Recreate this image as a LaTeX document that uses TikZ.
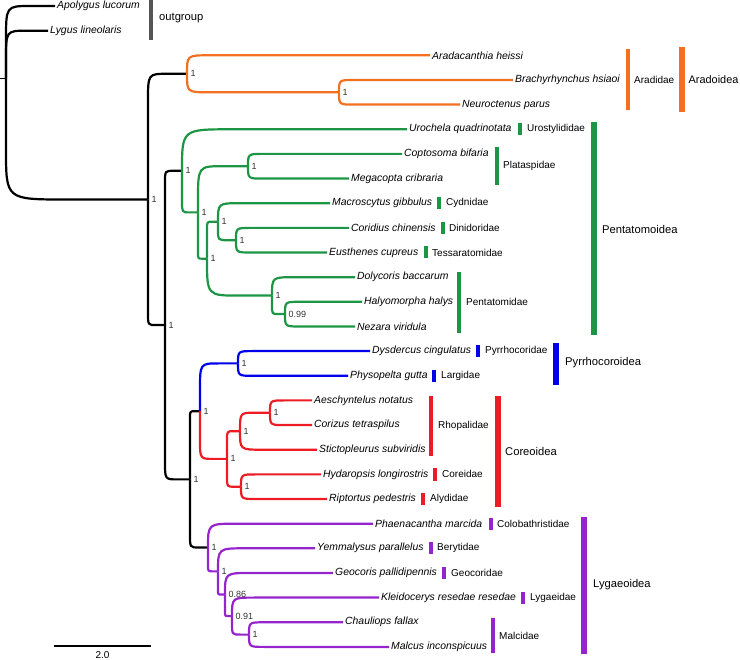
\documentclass[tikz,border=0pt]{standalone}
\usepackage{fontspec}
\setmainfont{Liberation Sans}
\usepackage{tikz}
\usetikzlibrary{positioning, calc}
\definecolor{aracol}{RGB}{243,112,33}
\definecolor{pencol}{RGB}{28,150,68}
\definecolor{pyrcol}{RGB}{0,0,235}
\definecolor{corcol}{RGB}{237,28,36}
\definecolor{lygcol}{RGB}{150,36,204}
\definecolor{outcol}{RGB}{85,85,85}
\tikzset{
  branch/.style={line width=2.2pt},
  tipname/.style={anchor=west, inner sep=2pt, font=\fontsize{10.4}{12}\selectfont\itshape},
  famname/.style={anchor=west, inner sep=0pt, font=\fontsize{10}{12}\selectfont},
  supname/.style={anchor=west, inner sep=0pt, font=\fontsize{11.2}{13}\selectfont},
  support/.style={inner sep=0pt, font=\fontsize{9}{10}\selectfont, text=black!80},
  fambar/.style={line width=4pt},
  supbar/.style={line width=6pt}
}
% rounded elbow from a parent node to a child
\newcommand{\branch}[3][black]{%
  \draw[branch, #1] let \p1 = (#2), \p2 = (#3),
    \n1 = {min(abs((\y2)-(\y1)), 50pt, 0.7*((\x2)-(\x1)))},
    \n2 = {min(1.2*\n1, 0.5*((\x2)-(\x1)))},
    \n3 = {((\y1) > (\y2)) ? 1 : -1} in
    (\p1) -- (\x1, {(\y2) + \n3*\n1}) .. controls (\x1, \y2) .. ({\x1 + \n2}, \y2) -- (\p2);}

\begin{document}
\begin{tikzpicture}[x=1pt, y=-1pt]
  \useasboundingbox (0,0) rectangle (740,660);

  % inner nodes
  \coordinate (stub) at (0,78.7);
  \coordinate (root) at (6,78.7);
  \coordinate (ing)  at (148,199.5);
  \coordinate (O1)   at (187,73.8);
  \coordinate (O2)   at (339,92.3);
  \coordinate (n326) at (165,325.1);
  \coordinate (G1)   at (182,170.8);
  \coordinate (G2)   at (198,212.4);
  \coordinate (P)    at (248,166.2);
  \coordinate (G3)   at (207,258.7);
  \coordinate (G4)   at (218,221.7);
  \coordinate (G5)   at (236,240.2);
  \coordinate (PT)   at (272,295.6);
  \coordinate (PT2)  at (285,314.1);
  \coordinate (n480) at (190,479.4);
  \coordinate (BR)   at (200,411.2);
  \coordinate (B1)   at (238,363.4);
  \coordinate (R1)   at (227,458.9);
  \coordinate (R2)   at (240,431.2);
  \coordinate (R3)   at (270,412.7);
  \coordinate (R5)   at (241,486.7);
  \coordinate (U1)   at (208,547.5);
  \coordinate (U2)   at (218,571.4);
  \coordinate (U3)   at (225,594.5);
  \coordinate (U4)   at (232,616.1);
  \coordinate (U5)   at (249,634.6);

  % tips
  \node[tipname] (aluc) at (55,6.0)   {Apolygus lucorum};
  \node[tipname] (llin) at (48,30.7)  {Lygus lineolaris};
  \node[tipname] (ahei) at (430,55.3) {Aradacanthia heissi};
  \node[tipname] (bhsi) at (513,80.0) {Brachyrhynchus hsiaoi};
  \node[tipname] (npar) at (460,104.6) {Neuroctenus parus};
  \node[tipname] (uqua) at (407,129.3) {Urochela quadrinotata};
  \node[tipname] (cbif) at (402,153.9) {Coptosoma bifaria};
  \node[tipname] (mcri) at (349,178.6) {Megacopta cribraria};
  \node[tipname] (mgib) at (330,203.2) {Macroscytus gibbulus};
  \node[tipname] (cchi) at (349,227.9) {Coridius chinensis};
  \node[tipname] (ecup) at (327,252.5) {Eusthenes cupreus};
  \node[tipname] (dbac) at (355,277.2) {Dolycoris baccarum};
  \node[tipname] (hhal) at (362,301.8) {Halyomorpha halys};
  \node[tipname] (nvir) at (355,326.5) {Nezara viridula};
  \node[tipname] (dcin) at (370,351.1) {Dysdercus cingulatus};
  \node[tipname] (pgut) at (348,375.8) {Physopelta gutta};
  \node[tipname] (anot) at (312,400.4) {Aeschyntelus notatus};
  \node[tipname] (ctet) at (312,425.1) {Corizus tetraspilus};
  \node[tipname] (ssub) at (317,449.7) {Stictopleurus subviridis};
  \node[tipname] (hlon) at (321,474.4) {Hydaropsis longirostris};
  \node[tipname] (rped) at (327,499.0) {Riptortus pedestris};
  \node[tipname] (pmar) at (373,523.7) {Phaenacantha marcida};
  \node[tipname] (ypar) at (315,548.3) {Yemmalysus parallelus};
  \node[tipname] (gpal) at (333,573.0) {Geocoris pallidipennis};
  \node[tipname] (kres) at (379,597.6) {Kleidocerys resedae resedae};
  \node[tipname] (cfal) at (343,622.3) {Chauliops fallax};
  \node[tipname] (minc) at (389,646.9) {Malcus inconspicuus};

  % backbone and outgroup
  \draw[line width=0.8pt] (stub) -- (root);
  \branch{root}{aluc.west}
  \branch{root}{llin.west}
  \branch{root}{ing}
  \branch{ing}{O1}
  \branch{ing}{n326}
  \branch{n326}{G1}
  \branch{n326}{n480}
  \branch{n480}{BR}
  \branch{n480}{U1}
  % Aradoidea
  \branch[aracol]{O1}{ahei.west}
  \branch[aracol]{O1}{O2}
  \branch[aracol]{O2}{bhsi.west}
  \branch[aracol]{O2}{npar.west}
  % Pentatomoidea
  \branch[pencol]{G1}{uqua.west}
  \branch[pencol]{G1}{G2}
  \branch[pencol]{G2}{P}
  \branch[pencol]{G2}{G3}
  \branch[pencol]{P}{cbif.west}
  \branch[pencol]{P}{mcri.west}
  \branch[pencol]{G3}{G4}
  \branch[pencol]{G3}{PT}
  \branch[pencol]{G4}{mgib.west}
  \branch[pencol]{G4}{G5}
  \branch[pencol]{G5}{cchi.west}
  \branch[pencol]{G5}{ecup.west}
  \branch[pencol]{PT}{dbac.west}
  \branch[pencol]{PT}{PT2}
  \branch[pencol]{PT2}{hhal.west}
  \branch[pencol]{PT2}{nvir.west}
  % Pyrrhocoroidea
  \branch[pyrcol]{BR}{B1}
  \branch[pyrcol]{B1}{dcin.west}
  \branch[pyrcol]{B1}{pgut.west}
  % Coreoidea
  \branch[corcol]{BR}{R1}
  \branch[corcol]{R1}{R2}
  \branch[corcol]{R1}{R5}
  \branch[corcol]{R2}{R3}
  \branch[corcol]{R2}{ssub.west}
  \branch[corcol]{R3}{anot.west}
  \branch[corcol]{R3}{ctet.west}
  \branch[corcol]{R5}{hlon.west}
  \branch[corcol]{R5}{rped.west}
  % Lygaeoidea
  \branch[lygcol]{U1}{pmar.west}
  \branch[lygcol]{U1}{U2}
  \branch[lygcol]{U2}{ypar.west}
  \branch[lygcol]{U2}{U3}
  \branch[lygcol]{U3}{gpal.west}
  \branch[lygcol]{U3}{U4}
  \branch[lygcol]{U4}{kres.west}
  \branch[lygcol]{U4}{U5}
  \branch[lygcol]{U5}{cfal.west}
  \branch[lygcol]{U5}{minc.west}

  % posterior support
  \foreach \nd/\val in {ing/1, O1/1, O2/1, n326/1, G1/1, G2/1, P/1, G3/1, G4/1,
      G5/1, PT/1, PT2/0.99, n480/1, BR/1, B1/1, R1/1, R2/1, R3/1, R5/1,
      U1/1, U2/1, U3/0.86, U4/0.91, U5/1}
    \node[support, right=3.5pt of \nd] (s\nd) {\val};

  % families
  \draw[fambar, outcol] (151,0) -- (151,40);
  \node[supname] (outg) at (159,18) {outgroup};
  \draw[fambar, aracol] (628,49) -- (628,110);
  \node[famname] (fAra) at (634,80) {Aradidae};
  \draw[fambar, pencol] (520,123) -- (520,135);
  \node[famname] (fUro) at (527,129.3) {Urostylididae};
  \draw[fambar, pencol] (497,147) -- (497,185);
  \node[famname] (fPla) at (503,166) {Plataspidae};
  \draw[fambar, pencol] (439,197) -- (439,209);
  \node[famname] (fCyd) at (446,203.2) {Cydnidae};
  \draw[fambar, pencol] (443,222) -- (443,234);
  \node[famname] (fDin) at (449,227.9) {Dinidoridae};
  \draw[fambar, pencol] (426,246.5) -- (426,258.5);
  \node[famname] (fTes) at (432,252.5) {Tessaratomidae};
  \draw[fambar, pencol] (459,272) -- (459,333);
  \node[famname] (fPen) at (466,302) {Pentatomidae};
  \draw[fambar, pyrcol] (478,345) -- (478,357);
  \node[famname] (fPyr) at (485,351.1) {Pyrrhocoridae};
  \draw[fambar, pyrcol] (434,370) -- (434,382);
  \node[famname] (fLar) at (441,375.8) {Largidae};
  \draw[fambar, corcol] (431,396) -- (431,456);
  \node[famname] (fRho) at (438,426) {Rhopalidae};
  \draw[fambar, corcol] (435,468) -- (435,481);
  \node[famname] (fCor) at (442,474.4) {Coreidae};
  \draw[fambar, corcol] (423,493) -- (423,505);
  \node[famname] (fAly) at (430,499) {Alydidae};
  \draw[fambar, lygcol] (491,518) -- (491,530);
  \node[famname] (fCol) at (497,523.7) {Colobathristidae};
  \draw[fambar, lygcol] (431,542) -- (431,554);
  \node[famname] (fBer) at (437,548.3) {Berytidae};
  \draw[fambar, lygcol] (444,567) -- (444,579);
  \node[famname] (fGeo) at (451,573) {Geocoridae};
  \draw[fambar, lygcol] (523,592) -- (523,604);
  \node[famname] (fLyg) at (530,597.6) {Lygaeidae};
  \draw[fambar, lygcol] (493,618) -- (493,653);
  \node[famname] (fMal) at (499,636) {Malcidae};

  % superfamilies
  \draw[supbar, aracol] (682,47) -- (682,112);
  \node[supname, font=\fontsize{10.9}{13}\selectfont] (sfAra) at (688.5,80) {Aradoidea};
  \draw[supbar, pencol] (594,122) -- (594,335);
  \node[supname] (sfPen) at (602,229) {Pentatomoidea};
  \draw[supbar, pyrcol] (556,343) -- (556,385);
  \node[supname] (sfPyr) at (565,363) {Pyrrhocoroidea};
  \draw[supbar, corcol] (498,396) -- (498,507);
  \node[supname] (sfCor) at (505,451) {Coreoidea};
  \draw[supbar, lygcol] (584,517) -- (584,654);
  \node[supname] (sfLyg) at (593,585) {Lygaeoidea};

  % scale bar
  \coordinate (sb0) at (54,646);
  \coordinate (sb1) at (151,646);
  \draw[line width=1.1pt] (sb0) -- (sb1);
  \node[font=\fontsize{10}{12}\selectfont] (sblab) at ($(sb0)!.5!(sb1)+(0,9.5)$) {2.0};
\end{tikzpicture}
\end{document}
